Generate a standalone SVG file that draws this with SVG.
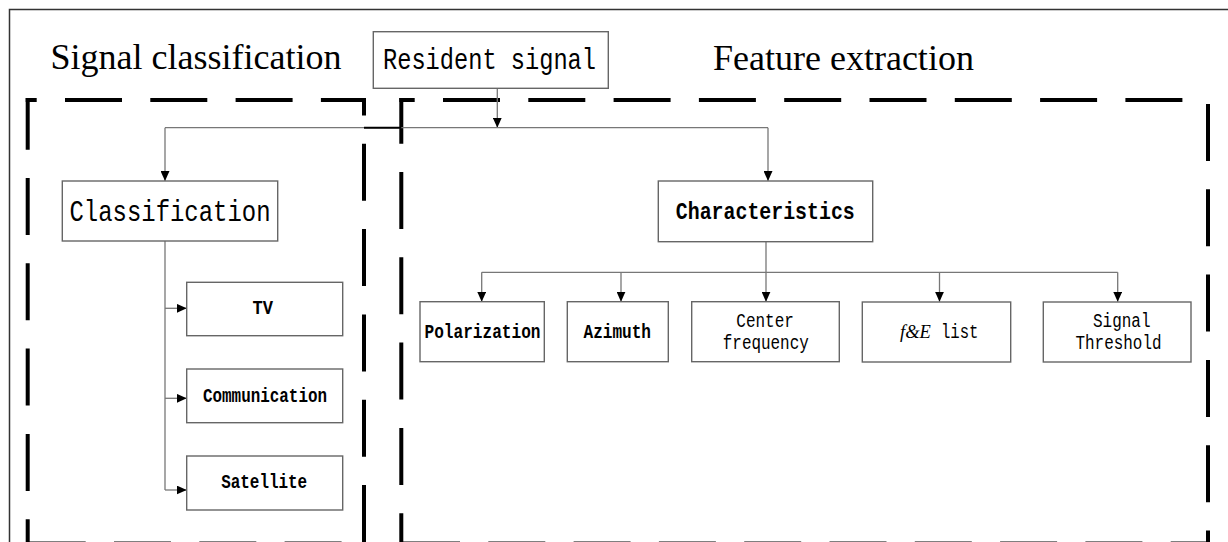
<svg xmlns="http://www.w3.org/2000/svg" width="1228" height="542" viewBox="0 0 1228 542">
<style>
.bg{fill:#fff}
.frame{fill:none;stroke:#333;stroke-width:1.5}
.dash{fill:none;stroke:#000;stroke-width:4;stroke-dasharray:57 28.3}
.box{fill:#fff;stroke:#666;stroke-width:1.4}
.con{fill:none;stroke:#777;stroke-width:1.3}
.title{font-family:"Liberation Serif","Times New Roman",serif;font-size:36px;fill:#000}
.mono{font-family:"Liberation Mono","Courier New",monospace;fill:#000}
.big{font-size:30px}
.mid{font-size:24px;font-weight:bold}
.sm{font-size:20px}
.b{font-weight:bold}
</style>
<defs>
<marker id="ah" markerWidth="10" markerHeight="9" refX="10" refY="4.5" orient="auto" markerUnits="userSpaceOnUse">
<path d="M0,0 L10,4.5 L0,9 Z" fill="#000"/>
</marker>
</defs>
<rect class="bg" x="0" y="0" width="1228" height="542"/>
<path class="frame" d="M9.5,545 V9.5 H1232"/>

<g id="region-signal-classification">
<path class="dash" d="M25.7,100 H366" stroke-dashoffset="46"/>
<path class="dash" d="M27.7,98 V546" stroke-dashoffset="5.3"/>
<path class="dash" d="M364,98 V546" stroke-dashoffset="39.5"/>
<path class="dash" d="M25.7,543.5 H366" stroke-dashoffset="82.3"/>
<text class="title" x="50.5" y="69.3">Signal classification</text>
</g>

<g id="region-feature-extraction">
<path class="dash" d="M399.3,100 H1210" stroke-dashoffset="41.6"/>
<path class="dash" d="M401.3,98 V546" stroke-dashoffset="11.3"/>
<path class="dash" d="M1208,98 V546" stroke-dashoffset="79.3"/>
<path class="dash" d="M399.3,543.5 H1210" stroke-dashoffset="81.6"/>
<text class="title" x="713" y="70">Feature extraction</text>
</g>

<g id="connectors">
<line class="con" x1="497.3" y1="88.3" x2="497.3" y2="127.7" marker-end="url(#ah)"/>
<line class="con" x1="165" y1="127.7" x2="768" y2="127.7"/>
<line x1="364" y1="127.7" x2="401.3" y2="127.7" stroke="#000" stroke-width="2"/>
<line class="con" x1="165" y1="127.7" x2="165" y2="181" marker-end="url(#ah)"/>
<line class="con" x1="768" y1="127.7" x2="768" y2="181" marker-end="url(#ah)"/>
<line class="con" x1="165" y1="241" x2="165" y2="490"/>
<line class="con" x1="165" y1="308.3" x2="186.7" y2="308.3" marker-end="url(#ah)"/>
<line class="con" x1="165" y1="398.3" x2="186.7" y2="398.3" marker-end="url(#ah)"/>
<line class="con" x1="165" y1="490" x2="186.7" y2="490" marker-end="url(#ah)"/>
<line class="con" x1="766" y1="241.7" x2="766" y2="272.3"/>
<line class="con" x1="481.7" y1="272.3" x2="1117.7" y2="272.3"/>
<line class="con" x1="481.7" y1="272.3" x2="481.7" y2="301.7" marker-end="url(#ah)"/>
<line class="con" x1="621" y1="272.3" x2="621" y2="301.7" marker-end="url(#ah)"/>
<line class="con" x1="766" y1="272.3" x2="766" y2="301.7" marker-end="url(#ah)"/>
<line class="con" x1="939.5" y1="272.3" x2="939.5" y2="301.7" marker-end="url(#ah)"/>
<line class="con" x1="1117.7" y1="272.3" x2="1117.7" y2="301.7" marker-end="url(#ah)"/>
</g>

<g id="resident-signal">
<rect class="box" x="373.3" y="31.7" width="235" height="56.6"/>
<text class="mono big" x="383" y="69.3" textLength="213" lengthAdjust="spacingAndGlyphs">Resident signal</text>
</g>

<g id="classification">
<rect class="box" x="62.3" y="181" width="215.4" height="60"/>
<text class="mono big" x="69.5" y="221" textLength="201" lengthAdjust="spacingAndGlyphs">Classification</text>
</g>

<g id="characteristics">
<rect class="box" x="658.3" y="181" width="214.4" height="60.7"/>
<text class="mono mid" x="675.8" y="219.3" textLength="179" lengthAdjust="spacingAndGlyphs">Characteristics</text>
</g>

<g id="tv">
<rect class="box" x="186.7" y="282.3" width="156" height="53.4"/>
<text class="mono sm b" x="252.5" y="314.3" textLength="20.5" lengthAdjust="spacingAndGlyphs">TV</text>
</g>

<g id="communication">
<rect class="box" x="186.7" y="369" width="156" height="53.7"/>
<text class="mono sm b" x="203" y="401.7" textLength="124" lengthAdjust="spacingAndGlyphs">Communication</text>
</g>

<g id="satellite">
<rect class="box" x="186.7" y="456" width="156" height="54"/>
<text class="mono sm b" x="221.2" y="488.3" textLength="86" lengthAdjust="spacingAndGlyphs">Satellite</text>
</g>

<g id="polarization">
<rect class="box" x="420" y="301.7" width="124.3" height="60"/>
<text class="mono sm b" x="424.5" y="338.3" textLength="116" lengthAdjust="spacingAndGlyphs">Polarization</text>
</g>

<g id="azimuth">
<rect class="box" x="567.3" y="301.7" width="101" height="60"/>
<text class="mono sm b" x="583.5" y="338.3" textLength="67.5" lengthAdjust="spacingAndGlyphs">Azimuth</text>
</g>

<g id="center-frequency">
<rect class="box" x="691.7" y="301.7" width="147.6" height="60"/>
<text class="mono sm" y="327.3"><tspan x="736.3" textLength="57.5" lengthAdjust="spacingAndGlyphs">Center</tspan><tspan x="722.8" y="348.8" textLength="86" lengthAdjust="spacingAndGlyphs">frequency</tspan></text>
</g>

<g id="fe-list">
<rect class="box" x="862.3" y="302" width="148.4" height="60"/>
<text class="mono sm" y="338.3"><tspan x="900" font-family="'Liberation Serif','Times New Roman',serif" font-style="italic" font-size="18.5">f&amp;E</tspan><tspan x="931.5" textLength="47" lengthAdjust="spacingAndGlyphs"> list</tspan></text>
</g>

<g id="signal-threshold">
<rect class="box" x="1043.3" y="302" width="147.7" height="60"/>
<text class="mono sm" y="326.7"><tspan x="1093" textLength="57.5" lengthAdjust="spacingAndGlyphs">Signal</tspan><tspan x="1075.5" y="349.3" textLength="86" lengthAdjust="spacingAndGlyphs">Threshold</tspan></text>
</g>
</svg>
